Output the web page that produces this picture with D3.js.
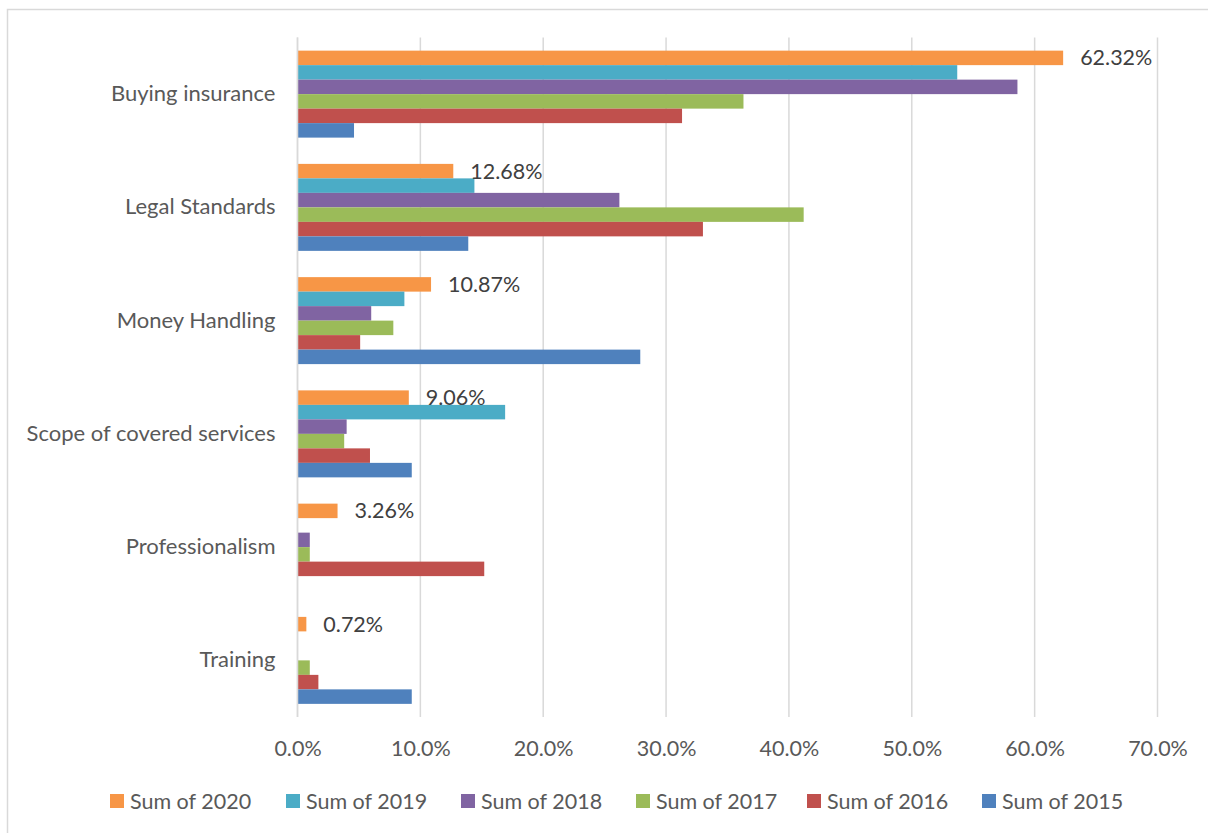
<!DOCTYPE html>
<html>
<head>
<meta charset="utf-8">
<script src="https://cdn.jsdelivr.net/npm/d3@7"></script>
<style>
  html, body { margin: 0; padding: 0; background: #fff; }
  svg { display: block; }
  text { font-family: Lato, "Open Sans", "Liberation Sans", sans-serif; }
</style>
</head>
<body>
<svg id="chart" width="1208" height="833"></svg>
<script>
// Categories, top to bottom
const categories = ["Buying insurance", "Legal Standards", "Money Handling",
  "Scope of covered services", "Professionalism", "Training"];

// Series, drawn top to bottom inside each category (percent)
const seriesNames = ["Sum of 2020", "Sum of 2019", "Sum of 2018",
  "Sum of 2017", "Sum of 2016", "Sum of 2015"];
const sum2020 = [62.32, 12.68, 10.87, 9.06, 3.26, 0.72];
const sum2019 = [53.7, 14.4, 8.7, 16.9, 0, 0];
const sum2018 = [58.6, 26.2, 6.0, 4.0, 1.0, 0];
const sum2017 = [36.3, 41.2, 7.8, 3.8, 1.0, 1.0];
const sum2016 = [31.3, 33.0, 5.1, 5.9, 15.2, 1.7];
const sum2015 = [4.6, 13.9, 27.9, 9.3, 0, 9.3];
const seriesValues = [sum2020, sum2019, sum2018, sum2017, sum2016, sum2015];
const seriesColors = ["#F79646", "#4BACC6", "#8064A2", "#9BBB59", "#C0504D", "#4F81BD"];

// Only the 2020 series carries value labels
const labelledSeries = "Sum of 2020";

// Axis ticks
const xTicks = [0, 10, 20, 30, 40, 50, 60, 70];

const svg = d3.select("#chart");

// Chart frame
svg.append("rect")
  .attr("x", 7.5).attr("y", 9.5)
  .attr("width", 1240).attr("height", 860)
  .attr("fill", "#fff")
  .attr("stroke", "#d9d9d9").attr("stroke-width", 1.5);

const plot = { left: 297.5, right: 1157.5, top: 37.5, bottom: 717 };

const x = d3.scaleLinear().domain([0, 70]).range([plot.left, plot.right]);
const y = d3.scaleBand().domain(categories).range([plot.top, plot.bottom])
  .paddingInner(0.232).paddingOuter(0.116);
const ySeries = d3.scaleBand().domain(seriesNames).range([0, y.bandwidth()]);

// Vertical gridlines
svg.append("g")
  .selectAll("line")
  .data(xTicks)
  .join("line")
  .attr("x1", d => x(d)).attr("x2", d => x(d))
  .attr("y1", plot.top).attr("y2", plot.bottom)
  .attr("stroke", "#d9d9d9").attr("stroke-width", 1.5);

// X axis tick labels
const xAxis = d3.axisBottom(x).tickValues(xTicks)
  .tickFormat(d => d.toFixed(1) + "%").tickSize(0).tickPadding(0);
const gx = svg.append("g").attr("transform", `translate(0, ${plot.bottom})`).call(xAxis);
gx.select(".domain").remove();
gx.selectAll("text")
  .attr("y", 31).attr("dy", "0.35em")
  .attr("font-size", 21.5).attr("fill", "#595959")
  .style("font-family", "Lato, 'Open Sans', sans-serif");

// Category labels
const yAxis = d3.axisLeft(y).tickSize(0).tickPadding(0);
const gy = svg.append("g").attr("transform", `translate(${plot.left - 22}, 0)`).call(yAxis);
gy.select(".domain").remove();
gy.selectAll("text")
  .attr("font-size", 22).attr("fill", "#595959")
  .style("font-family", "Lato, 'Open Sans', sans-serif");

// Bars
const rows = [];
categories.forEach((c, i) => {
  seriesNames.forEach((s, j) => {
    rows.push({ category: c, series: s, value: seriesValues[j][i], color: seriesColors[j] });
  });
});

svg.append("g")
  .selectAll("rect")
  .data(rows.filter(d => d.value > 0))
  .join("rect")
  .attr("x", x(0))
  .attr("y", d => y(d.category) + ySeries(d.series))
  .attr("width", d => x(d.value) - x(0))
  .attr("height", ySeries.bandwidth())
  .attr("fill", d => d.color);

// Axis line at zero
svg.append("line")
  .attr("x1", x(0)).attr("x2", x(0))
  .attr("y1", plot.top).attr("y2", plot.bottom)
  .attr("stroke", "#d9d9d9").attr("stroke-width", 1.5);

// Value labels for 2020
svg.append("g")
  .selectAll("text")
  .data(rows.filter(d => d.series === labelledSeries))
  .join("text")
  .attr("x", d => x(d.value) + 17)
  .attr("y", d => y(d.category) + ySeries(d.series) + ySeries.bandwidth() / 2)
  .attr("dy", "0.35em")
  .attr("font-size", 21.5).attr("fill", "#404040")
  .text(d => d.value.toFixed(2) + "%");

// Legend
const legendX = [110, 286, 461, 636, 807, 982];
const legend = svg.append("g")
  .selectAll("g")
  .data(seriesNames)
  .join("g")
  .attr("transform", (d, i) => `translate(${legendX[i]}, 801)`);
legend.append("rect")
  .attr("x", 0).attr("y", -7).attr("width", 14).attr("height", 14)
  .attr("fill", (d, i) => seriesColors[i]);
legend.append("text")
  .attr("x", 20).attr("dy", "0.35em")
  .attr("font-size", 21.5).attr("fill", "#595959")
  .text(d => d);
</script>
</body>
</html>
